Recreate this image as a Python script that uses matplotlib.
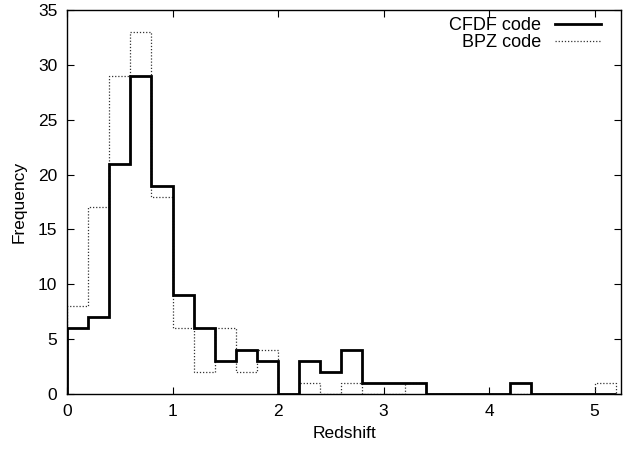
import numpy as np
import matplotlib.pyplot as plt

plt.rcParams['font.family'] = ['Liberation Sans', 'DejaVu Sans']

# histogram bins in redshift, width 0.2
bin_edges = np.round(np.arange(0, 5.21, 0.2), 1)
cfdf = [6, 7, 21, 29, 19, 9, 6, 3, 4, 3, 0, 3, 2, 4, 1, 1, 1,
        0, 0, 0, 0, 1, 0, 0, 0, 0]
bpz = [8, 17, 29, 33, 18, 6, 2, 6, 2, 4, 0, 1, 0, 1, 0, 0, 1,
       0, 0, 0, 0, 0, 0, 0, 0, 1]

fig = plt.figure(figsize=(6.23, 4.51), dpi=100)
ax = fig.add_axes([67/623, 1 - 394/451, (621-67)/623, (394-10)/451])

ax.stairs(bpz, bin_edges, color='#333333', lw=0.9, ls=(0, (1, 1.5)), label='BPZ code', zorder=2)
ax.stairs(cfdf, bin_edges, color='black', lw=2, label='CFDF code', zorder=3)

ax.set_xlim(0, 5.25)
ax.set_ylim(0, 35)
ax.set_xticks(range(6))
ax.set_yticks(range(0, 36, 5))
ax.tick_params(direction='in', top=True, right=True, length=5, labelsize=12.5, pad=7)
for s in ax.spines.values():
    s.set_linewidth(1)
ax.set_xlabel('Redshift', fontsize=12.5, labelpad=5)
ax.set_ylabel('Frequency', fontsize=12.5, labelpad=8)

h, l = ax.get_legend_handles_labels()
ax.legend(h[::-1], l[::-1], loc='upper right', frameon=False, markerfirst=False,
          fontsize=13, handlelength=2.55, labelspacing=0.0, borderaxespad=0.0,
          handletextpad=0.75, bbox_to_anchor=(0.977, 1.0))

fig.savefig('out.png', dpi=100)
